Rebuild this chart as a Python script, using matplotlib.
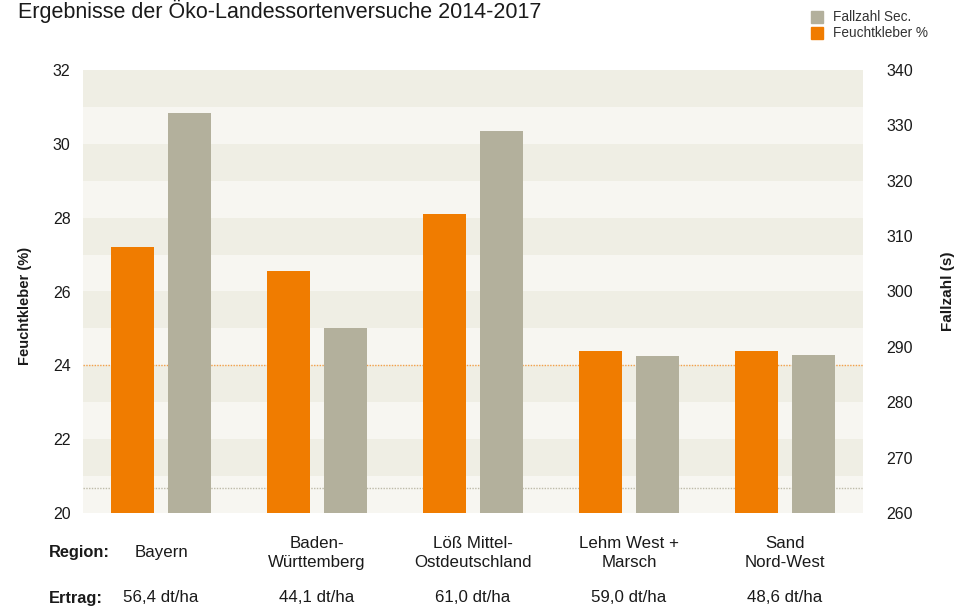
import matplotlib
matplotlib.use('Agg')
import matplotlib.pyplot as plt
import matplotlib.transforms as mtransforms
import numpy as np

plt.rcParams['font.family'] = ['Liberation Sans', 'DejaVu Sans']

# data
regions = ['Bayern', 'Baden-\nWürttemberg', 'Löß Mittel-\nOstdeutschland', 'Lehm West +\nMarsch', 'Sand\nNord-West']
ertrag = ['56,4 dt/ha', '44,1 dt/ha', '61,0 dt/ha', '59,0 dt/ha', '48,6 dt/ha']
feuchtkleber = [27.2, 26.55, 28.1, 24.4, 24.4]
fallzahl = [332.3, 293.4, 329.0, 288.4, 288.6]
ref_kleber = 24.0
ref_fallzahl = 264.5

left_lim = (20, 32)
right_lim = (260, 340)

orange = '#f07c00'
grey = '#b3b09c'
band_dark = '#efeee4'
band_light = '#f7f6f1'
txt = '#1a1a1a'

fig = plt.figure(figsize=(9.59, 6.06), dpi=100)
ax = fig.add_axes([83 / 959, 93 / 606, 780 / 959, 443 / 606])
ax2 = ax.twinx()

x = np.arange(len(regions))
w = 0.275

ax.set_facecolor(band_light)
for k in range(left_lim[0], left_lim[1]):
    if k % 2 == 1:
        ax.axhspan(k, k + 1, color=band_dark, lw=0, zorder=0)

# reference lines (grey one converted from right axis to left axis units)
def fall_to_left(v):
    return left_lim[0] + (v - right_lim[0]) * (left_lim[1] - left_lim[0]) / (right_lim[1] - right_lim[0])

ax.axhline(ref_kleber, color='#f3a04a', ls=(0, (1, 1)), lw=1.0, zorder=1)
ax.axhline(fall_to_left(ref_fallzahl), color='#bdbaa9', ls=(0, (1, 1)), lw=1.0, zorder=1)

ax.bar(x - 0.185, feuchtkleber, width=w, color=orange, zorder=2)
ax2.bar(x + 0.185, fallzahl, width=w, color=grey, zorder=2)

ax.set_xlim(-0.5, len(regions) - 0.5)
ax.set_ylim(*left_lim)
ax2.set_ylim(*right_lim)
ax.set_yticks(np.arange(20, 33, 2))
ax2.set_yticks(np.arange(260, 341, 10))
ax.set_xticks([])

for a in (ax, ax2):
    for s in a.spines.values():
        s.set_visible(False)
    a.tick_params(length=0, labelsize=11.5, colors=txt)
ax.tick_params(axis='y', pad=9)
ax2.tick_params(axis='y', pad=17)

fig.text(25 / 959, 1 - 306 / 606, 'Feuchtkleber (%)', rotation=90, ha='center', va='center',
         fontsize=10.5, fontweight='bold', color=txt)
fig.text(948 / 959, 1 - 291 / 606, 'Fallzahl (s)', rotation=90, ha='center', va='center',
         fontsize=11, fontweight='bold', color=txt)

# bottom labels
trans = mtransforms.blended_transform_factory(ax.transData, fig.transFigure)
for i, (r, e) in enumerate(zip(regions, ertrag)):
    ax.text(i, 1 - 553 / 606, r, transform=trans, ha='center', va='center',
            fontsize=12.2, color=txt, linespacing=1.35)
    ax.text(i, 1 - 598 / 606, e, transform=trans, ha='center', va='center',
            fontsize=12.2, color=txt)
fig.text(49 / 959, 1 - 553 / 606, 'Region:', ha='left', va='center', fontsize=11.8,
         fontweight='bold', color=txt)
fig.text(49 / 959, 1 - 598 / 606, 'Ertrag:', ha='left', va='center', fontsize=11.8,
         fontweight='bold', color=txt)

# title
fig.text(18 / 959, 1 - 18 / 606, 'Ergebnisse der Öko-Landessortenversuche 2014-2017',
         ha='left', va='baseline', fontsize=15.5, color=txt)

# legend
for j, (lab, col) in enumerate([('Fallzahl Sec.', grey), ('Feuchtkleber %', orange)]):
    y0 = 11 + j * 16
    fig.patches.append(plt.Rectangle((811 / 959, 1 - (y0 + 12) / 606), 12 / 959, 12 / 606,
                                     transform=fig.transFigure, color=col, figure=fig))
    fig.text(833 / 959, 1 - (y0 + 6) / 606, lab, ha='left', va='center', fontsize=9.8, color='#333333')

fig.savefig('out.png', dpi=100)
